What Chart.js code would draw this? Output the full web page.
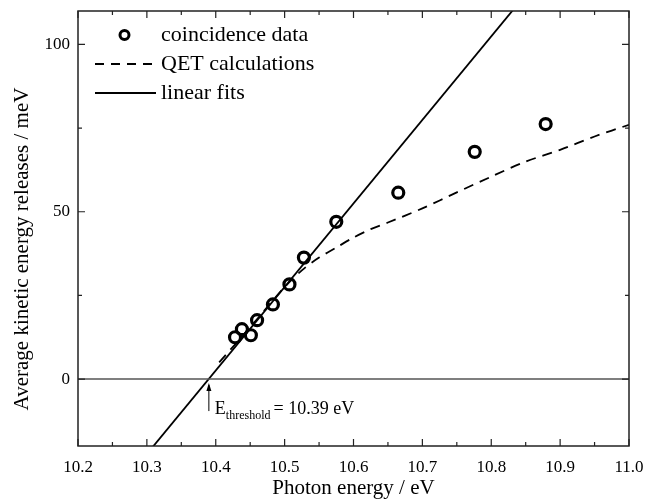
<!DOCTYPE html>
<html>
<head>
<meta charset="utf-8">
<script src="https://cdn.jsdelivr.net/npm/chart.js@4.4.1/dist/chart.umd.min.js"></script>
<style>
  html, body { margin: 0; padding: 0; background: #fff; }
  #wrap { width: 646px; height: 501px; }
</style>
</head>
<body>
<div id="wrap"><canvas id="myChart" width="646" height="501"></canvas></div>
<script>
// coincidence data (photon energy eV, KER meV)
const dataX = [10.428, 10.438, 10.451, 10.460, 10.483, 10.507, 10.528, 10.575, 10.665, 10.776, 10.879];
const dataY = [12.5, 14.9, 13.1, 17.6, 22.3, 28.3, 36.3, 47.0, 55.7, 67.9, 76.2];

// QET calculations
const qetX = [10.405, 10.45, 10.50, 10.525, 10.55, 10.575, 10.60, 10.625, 10.65, 10.70, 10.75, 10.80, 10.85, 10.90, 10.95, 11.0];
const qetY = [5.0, 15.5, 27.5, 32.5, 36.3, 39.3, 42.3, 44.8, 46.8, 51.0, 55.8, 60.5, 65.0, 68.5, 72.5, 76.0];

// linear fit end points
const fitX = [10.300, 10.840];
const fitY = [-22.4, 112.4];

const xTicks = [10.2, 10.3, 10.4, 10.5, 10.6, 10.7, 10.8, 10.9, 11.0];
const xMinor = [10.25, 10.35, 10.45, 10.55, 10.65, 10.75, 10.85, 10.95];
const yTicks = [0, 50, 100];
const yMinor = [25, 75];

const threshold = 10.39;

const serif = '"Liberation Serif", "DejaVu Serif", serif';

const toPts = (xs, ys) => xs.map((x, k) => ({ x: x, y: ys[k] }));

const framePlugin = {
    id: 'frame',
    afterDatasetsDraw(chart) {
        const c = chart.ctx;
        const a = chart.chartArea;
        const sx = chart.scales.x, sy = chart.scales.y;
        c.save();
        // zero line
        c.strokeStyle = '#555';
        c.lineWidth = 1.5;
        c.beginPath();
        c.moveTo(a.left, sy.getPixelForValue(0));
        c.lineTo(a.right, sy.getPixelForValue(0));
        c.stroke();
        // frame
        c.strokeStyle = '#222';
        c.lineWidth = 1.5;
        c.strokeRect(a.left, a.top, a.right - a.left, a.bottom - a.top);
        // inward ticks
        c.lineWidth = 1.2;
        c.beginPath();
        const tx = (v, len) => {
            const p = sx.getPixelForValue(v);
            c.moveTo(p, a.bottom); c.lineTo(p, a.bottom - len);
            c.moveTo(p, a.top); c.lineTo(p, a.top + len);
        };
        const ty = (v, len) => {
            const p = sy.getPixelForValue(v);
            c.moveTo(a.left, p); c.lineTo(a.left + len, p);
            c.moveTo(a.right, p); c.lineTo(a.right - len, p);
        };
        xTicks.forEach(v => tx(v, 7));
        xMinor.forEach(v => tx(v, 4));
        yTicks.forEach(v => ty(v, 7));
        yMinor.forEach(v => ty(v, 4));
        c.stroke();

        // threshold arrow and label
        const ax = sx.getPixelForValue(threshold);
        const ay = sy.getPixelForValue(0);
        c.strokeStyle = '#000';
        c.fillStyle = '#000';
        c.lineWidth = 1;
        c.beginPath();
        c.moveTo(ax, ay + 32); c.lineTo(ax, ay + 6);
        c.stroke();
        c.beginPath();
        c.moveTo(ax, ay + 4); c.lineTo(ax - 2.5, ay + 12); c.lineTo(ax + 2.5, ay + 12);
        c.closePath(); c.fill();
        c.textBaseline = 'alphabetic';
        c.textAlign = 'left';
        c.font = '18px ' + serif;
        let px = ax + 6;
        const base = ay + 35;
        c.fillText('E', px, base);
        px += c.measureText('E').width;
        c.font = '12px ' + serif;
        c.fillText('threshold', px, base + 5);
        px += c.measureText('threshold').width + 3;
        c.font = '18px ' + serif;
        c.fillText('= 10.39 eV', px, base);

        // legend
        c.font = '22px ' + serif;
        c.textBaseline = 'middle';
        const lx0 = 95, lx1 = 156, tx0 = 161;
        const rows = [35, 64, 93];
        c.lineWidth = 3;
        c.beginPath();
        c.arc((lx0 + lx1) / 2 - 1, rows[0], 4.5, 0, Math.PI * 2);
        c.stroke();
        c.lineWidth = 1.8;
        c.setLineDash([9, 7]);
        c.beginPath(); c.moveTo(lx0, rows[1]); c.lineTo(lx1, rows[1]); c.stroke();
        c.setLineDash([]);
        c.beginPath(); c.moveTo(lx0, rows[2]); c.lineTo(lx1, rows[2]); c.stroke();
        c.fillText('coincidence data', tx0, rows[0]);
        c.fillText('QET calculations', tx0, rows[1]);
        c.fillText('linear fits', tx0, rows[2]);

        // axis titles
        c.font = '21px ' + serif;
        c.textAlign = 'center';
        c.textBaseline = 'middle';
        c.fillText('Photon energy / eV', (a.left + a.right) / 2, 488);
        c.translate(22, 249);
        c.rotate(-Math.PI / 2);
        c.fillText('Average kinetic energy releases / meV', 0, 0);
        c.restore();
    }
};

const ctx = document.getElementById('myChart');

const chart = new Chart(ctx, {
    type: 'scatter',
    data: {
        datasets: [{
            label: 'linear fits',
            data: toPts(fitX, fitY),
            showLine: true,
            borderColor: '#000',
            borderWidth: 1.8,
            pointRadius: 0,
            order: 3
        }, {
            label: 'QET calculations',
            data: toPts(qetX, qetY),
            showLine: true,
            borderColor: '#000',
            borderWidth: 1.8,
            borderDash: [10, 7],
            pointRadius: 0,
            tension: 0.3,
            order: 2
        }, {
            label: 'coincidence data',
            data: toPts(dataX, dataY),
            showLine: false,
            pointStyle: 'circle',
            pointRadius: 5.5,
            pointBorderWidth: 3.2,
            pointBorderColor: '#000',
            pointBackgroundColor: 'rgba(255,255,255,0)',
            order: 1
        }]
    },
    options: {
        responsive: false,
        animation: false,
        layout: { padding: { top: 11, right: 17, left: 0, bottom: 0 } },
        plugins: {
            legend: { display: false },
            tooltip: { enabled: false }
        },
        scales: {
            x: {
                type: 'linear',
                min: 10.2,
                max: 11.0,
                afterBuildTicks: s => { s.ticks = xTicks.map(v => ({ value: v })); },
                afterFit: s => {
                    s.height = 55;
                    s.paddingLeft = 0;
                    s.paddingRight = 0;
                },
                grid: { display: false, drawTicks: false },
                border: { display: false },
                ticks: {
                    padding: 11,
                    color: '#000',
                    font: { family: serif, size: 17 },
                    callback: v => v.toFixed(1)
                }
            },
            y: {
                type: 'linear',
                min: -20,
                max: 110,
                afterBuildTicks: s => { s.ticks = yTicks.map(v => ({ value: v })); },
                afterFit: s => {
                    s.width = 78;
                    s.paddingTop = 0;
                    s.paddingBottom = 0;
                },
                grid: { display: false, drawTicks: false },
                border: { display: false },
                ticks: {
                    padding: 8,
                    color: '#000',
                    font: { family: serif, size: 17 }
                }
            }
        }
    },
    plugins: [framePlugin]
});
</script>
</body>
</html>
